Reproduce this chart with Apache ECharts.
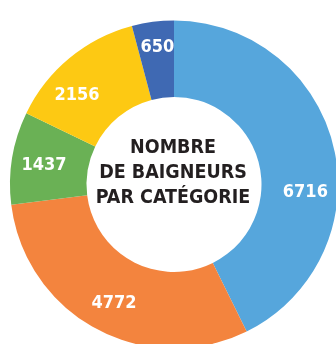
<!DOCTYPE html>
<html>
<head>
<meta charset="utf-8">
<script src="https://cdn.jsdelivr.net/npm/echarts@6/dist/echarts.min.js"></script>
<style>
  html, body { margin: 0; padding: 0; background: #ffffff; }
  #chart { width: 336px; height: 344px; }
</style>
</head>
<body>
<div id="chart"></div>
<script>
// Bathers per category, drawn clockwise from 12 o'clock
const categories = ['A', 'B', 'C', 'D', 'E'];
const values = [6716, 4772, 1437, 2156, 650];
const colors = ['#56a6dc', '#f3843e', '#6ab155', '#fdc913', '#3f69b3'];
// Nudges for the value labels inside each ring segment
const labelOffsets = [[6, 37], [1, 5], [-3, 2], [-15, 10], [0, -10]];
const centerTitle = 'NOMBRE\nDE BAIGNEURS\nPAR CATÉGORIE';

const chart = echarts.init(document.getElementById('chart'), null, { renderer: 'canvas' });

chart.setOption({
  backgroundColor: '#ffffff',
  animation: false,
  graphic: [{
    type: 'text',
    x: 173,
    y: 173,
    style: {
      text: centerTitle,
      align: 'center',
      verticalAlign: 'middle',
      fill: '#231f20',
      fontFamily: '"DejaVu Sans Condensed", "DejaVu Sans", sans-serif',
      fontWeight: 'bold',
      fontSize: 19.5,
      lineHeight: 25
    }
  }],
  series: [{
    type: 'pie',
    center: [174, 184.5],
    radius: [87.5, 164],
    startAngle: 90,
    clockwise: true,
    silent: true,
    label: {
      show: true,
      position: 'inside',
      formatter: '{c}',
      color: '#ffffff',
      fontFamily: '"DejaVu Sans Condensed", "DejaVu Sans", sans-serif',
      fontWeight: 'bold',
      fontSize: 18
    },
    labelLine: { show: false },
    itemStyle: { borderWidth: 0 },
    data: categories.map((name, i) => ({
      name: name,
      value: values[i],
      itemStyle: { color: colors[i] },
      label: { offset: labelOffsets[i] }
    }))
  }]
});
</script>
</body>
</html>
